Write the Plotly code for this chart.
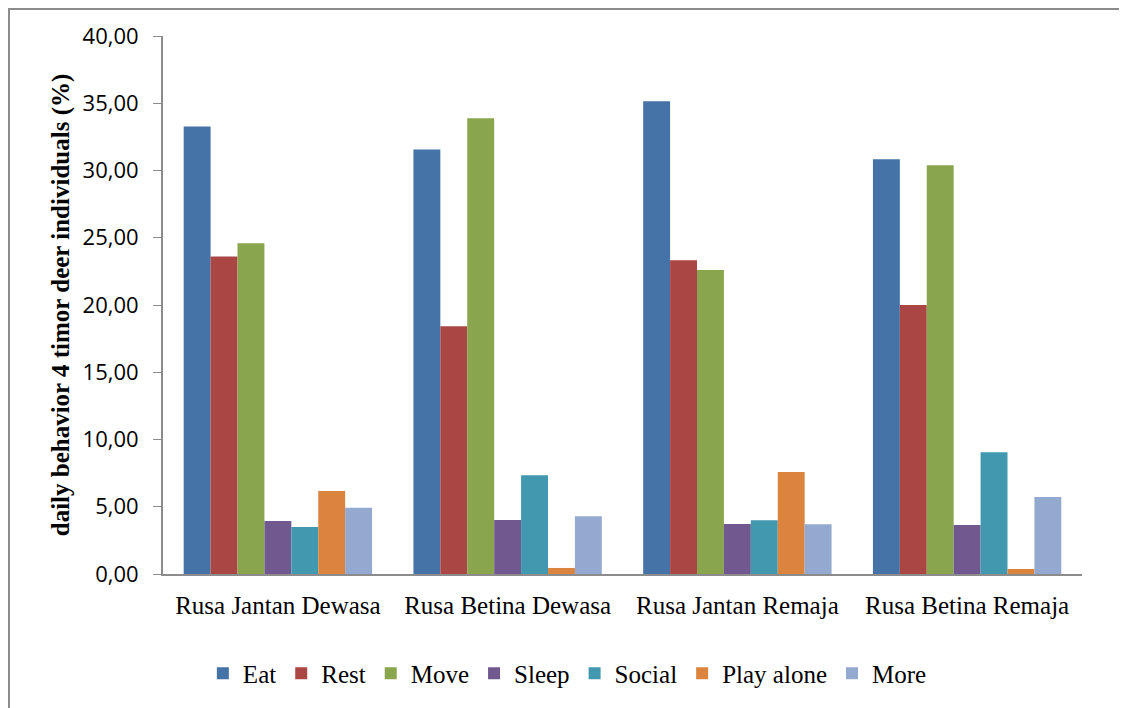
import plotly.graph_objects as go

groups = ["Rusa Jantan Dewasa", "Rusa Betina Dewasa", "Rusa Jantan Remaja", "Rusa Betina Remaja"]
behaviours = ["Eat", "Rest", "Move", "Sleep", "Social", "Play alone", "More"]
eat = [33.28, 31.57, 35.14, 30.83]
rest = [23.60, 18.42, 23.33, 20.00]
move = [24.60, 33.88, 22.60, 30.39]
sleep = [3.94, 4.02, 3.72, 3.64]
social = [3.50, 7.35, 4.00, 9.06]
play_alone = [6.17, 0.45, 7.58, 0.37]
more = [4.92, 4.30, 3.70, 5.72]
y_ticks = [0, 5, 10, 15, 20, 25, 30, 35, 40]

series = [eat, rest, move, sleep, social, play_alone, more]
colors = ["#4572A7", "#AA4643", "#89A54E", "#71588F", "#4198AF", "#DB843D", "#93A9CF"]

fig = go.Figure()
for name, vals, col in zip(behaviours, series, colors):
    fig.add_trace(go.Bar(x=groups, y=vals, name=name, marker=dict(color=col, line=dict(width=0))))

# page has an 8px body margin, so margins are shifted by that amount
fig.update_layout(
    width=1127,
    height=708,
    barmode="group",
    bargap=0.18,
    bargroupgap=0,
    plot_bgcolor="white",
    paper_bgcolor="white",
    margin=dict(l=155, r=53, t=28, b=142),
    font=dict(family="Liberation Serif", size=20, color="black"),
    legend=dict(
        orientation="h",
        x=0.44,
        xanchor="center",
        y=-0.142,
        yanchor="top",
        font=dict(family="Liberation Serif", size=25),
        itemwidth=30,
        traceorder="normal",
    ),
    xaxis=dict(
        showline=True,
        linecolor="#8c8c8c",
        linewidth=2,
        ticks="",
        ticklabelstandoff=8,
        tickfont=dict(family="Liberation Serif", size=25),
    ),
    yaxis=dict(
        range=[0, 40],
        tickvals=y_ticks,
        ticktext=[f"{v:.2f}".replace(".", ",") for v in y_ticks],
        showline=True,
        linecolor="#8c8c8c",
        linewidth=2,
        ticks="outside",
        ticklen=8,
        tickcolor="#8c8c8c",
        ticklabelstandoff=10,
        showgrid=False,
        zeroline=False,
        tickfont=dict(family="Open Sans", size=22),
        title=dict(
            text="<b>daily behavior 4 timor deer individuals (%)</b>",
            font=dict(family="Liberation Serif", size=25),
            standoff=6,
        ),
    ),
    shapes=[
        dict(type="rect", xref="paper", yref="paper",
             x0=-0.1676, x1=1.0424, y0=-0.3, y1=1.05,
             line=dict(color="#8c8c8c", width=2)),
    ],
)

fig.write_html("out.html")
